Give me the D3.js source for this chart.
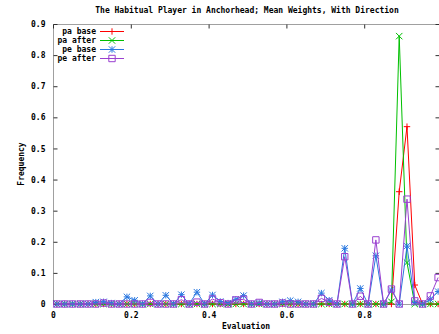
<!DOCTYPE html>
<html>
<head>
<meta charset="utf-8">
<script src="https://cdn.jsdelivr.net/npm/d3@7"></script>
<style>
  body { margin: 0; background: #fff; }
  svg { display: block; }
  .lbl { font-family: "DejaVu Sans Mono", monospace; font-size: 8px; font-weight: bold; fill: #000; }
</style>
</head>
<body>
<div id="chart"></div>
<script>
// bin centres 0.01 .. 0.99
var evaluations = d3.range(50).map(function (i) { return +(0.01 + i * 0.02).toFixed(2); });

var paBase = [0,0,0,0,0,0,0,0,0,0, 0,0,0,0,0,0,0,0,0,0, 0,0,0,0,0,0,0,0,0,0,
              0,0,0,0,0,0,0,0,0,0, 0,0,0,0,0.361,0.570,0.061,0,0,0];
var paAfter = [0,0,0,0,0,0,0,0,0,0, 0,0,0,0,0,0,0,0,0,0, 0,0,0,0,0,0,0,0,0,0,
               0,0,0,0,0,0,0,0,0,0, 0,0,0,0.007,0.861,0.133,0,0,0,0];
var peBase = [0,0,0,0,0,0.006,0.007,0.003,0,0.023, 0.012,0,0.026,0,0.028,0,0.030,0,0.038,0,
              0.029,0.008,0.003,0.015,0.027,0,0.004,0,0,0.007, 0.011,0.007,0,0,0.035,0.012,0,0.179,0,0.050,
              0,0.155,0,0.045,0,0.186,0.005,0,0.015,0.040];
var peAfter = [0,0,0,0,0,0,0.003,0,0,0, 0,0,0.005,0,0,0,0.014,0,0.006,0,
               0.016,0.004,0,0.013,0.015,0,0.005,0,0,0.003, 0,0,0,0,0.018,0.006,0,0.152,0,0.025,
               0,0.206,0,0.048,0,0.337,0.010,0,0.026,0.085];

var seriesNames = ["pa base", "pa after", "pe base", "pe after"];
var seriesColors = ["#ff0000", "#00c000", "#2a78e0", "#9a40d0"];
var seriesShapes = ["plus", "cross", "star", "square"];
var seriesValues = [paBase, paAfter, peBase, peAfter];

var xTicks = [0, 0.2, 0.4, 0.6, 0.8];
var yTicks = [0, 0.1, 0.2, 0.3, 0.4, 0.5, 0.6, 0.7, 0.8, 0.9];

var width = 439, height = 334;
var plotLeft = 53, plotRight = 442, plotTop = 24, plotBottom = 304;

var svg = d3.select("#chart").append("svg")
    .attr("width", width)
    .attr("height", height);

var x = d3.scaleLinear().domain([0, 1]).range([plotLeft, plotRight]);
var y = d3.scaleLinear().domain([0, 0.9]).range([plotBottom, plotTop]);

// border
svg.append("rect")
    .attr("x", plotLeft + 0.5).attr("y", plotTop + 0.5)
    .attr("width", plotRight - plotLeft).attr("height", plotBottom - plotTop)
    .attr("fill", "none")
    .attr("stroke", "#a0a0a0");

// axes, gnuplot style: ticks inward, mirrored
function styleAxis(g) {
    g.select(".domain").remove();
    g.selectAll(".tick line").attr("stroke", "#303030");
    g.selectAll(".tick text").attr("class", "lbl").attr("fill", "#000");
}
function tickFmt(d) { return d === 0 ? "0" : d3.format(".1f")(d); }

svg.append("g")
    .attr("transform", "translate(0," + (plotBottom + 0.5) + ")")
    .call(d3.axisBottom(x).tickValues(xTicks).tickSize(-4).tickPadding(8).tickFormat(tickFmt))
    .call(styleAxis);
svg.append("g")
    .attr("transform", "translate(0," + (plotTop + 0.5) + ")")
    .call(d3.axisTop(x).tickValues(xTicks).tickSize(-4).tickFormat(""))
    .call(styleAxis);
svg.append("g")
    .attr("transform", "translate(" + (plotLeft + 0.5) + ",0)")
    .call(d3.axisLeft(y).tickValues(yTicks).tickSize(-4).tickPadding(8).tickFormat(tickFmt))
    .call(styleAxis);
svg.append("g")
    .attr("transform", "translate(" + (plotRight - 2.5) + ",0)")
    .call(d3.axisRight(y).tickValues(yTicks).tickSize(-4).tickFormat(""))
    .call(styleAxis);

// titles
svg.append("text").attr("class", "lbl")
    .attr("x", 247).attr("y", 13)
    .attr("text-anchor", "middle")
    .text("The Habitual Player in Anchorhead; Mean Weights, With Direction");
svg.append("text").attr("class", "lbl")
    .attr("x", 246).attr("y", 329)
    .attr("text-anchor", "middle")
    .text("Evaluation");
svg.append("text").attr("class", "lbl")
    .attr("transform", "translate(24,164) rotate(-90)")
    .attr("text-anchor", "middle")
    .text("Frequency");

function markerPath(shape) {
    var r = 3.2;
    switch (shape) {
        case "plus":
            return "M" + (-r) + ",0H" + r + "M0," + (-r) + "V" + r;
        case "cross":
            return "M" + (-r) + "," + (-r) + "L" + r + "," + r + "M" + (-r) + "," + r + "L" + r + "," + (-r);
        case "star":
            return "M" + (-r) + ",0H" + r + "M0," + (-r) + "V" + r +
                "M" + (-r) + "," + (-r) + "L" + r + "," + r + "M" + (-r) + "," + r + "L" + r + "," + (-r);
        default:
            return "M" + (-r) + "," + (-r) + "H" + r + "V" + r + "H" + (-r) + "Z";
    }
}

var plot = svg.append("g");
var line = d3.line()
    .x(function (d) { return x(d[0]); })
    .y(function (d) { return y(d[1]); });

seriesValues.forEach(function (vals, k) {
    var pts = evaluations.map(function (e, i) { return [e, vals[i]]; });
    var g = plot.append("g");
    g.append("path")
        .datum(pts)
        .attr("d", line)
        .attr("fill", "none")
        .attr("stroke", seriesColors[k])
        .attr("stroke-width", 1);
    g.selectAll("path.pt")
        .data(pts)
        .enter()
        .append("path")
        .attr("class", "pt")
        .attr("transform", function (d) { return "translate(" + x(d[0]) + "," + y(d[1]) + ")"; })
        .attr("d", markerPath(seriesShapes[k]))
        .attr("fill", "none")
        .attr("stroke", seriesColors[k])
        .attr("stroke-width", 1);
});

// key
var key = svg.append("g");
seriesNames.forEach(function (name, k) {
    var ky = 31 + k * 9;
    key.append("text").attr("class", "lbl")
        .attr("x", 96).attr("y", ky + 3)
        .attr("text-anchor", "end")
        .text(name);
    key.append("line")
        .attr("x1", 100).attr("x2", 124)
        .attr("y1", ky + 0.5).attr("y2", ky + 0.5)
        .attr("stroke", seriesColors[k]);
    key.append("path")
        .attr("transform", "translate(112," + (ky + 0.5) + ")")
        .attr("d", markerPath(seriesShapes[k]))
        .attr("fill", "none")
        .attr("stroke", seriesColors[k]);
});
</script>
</body>
</html>
